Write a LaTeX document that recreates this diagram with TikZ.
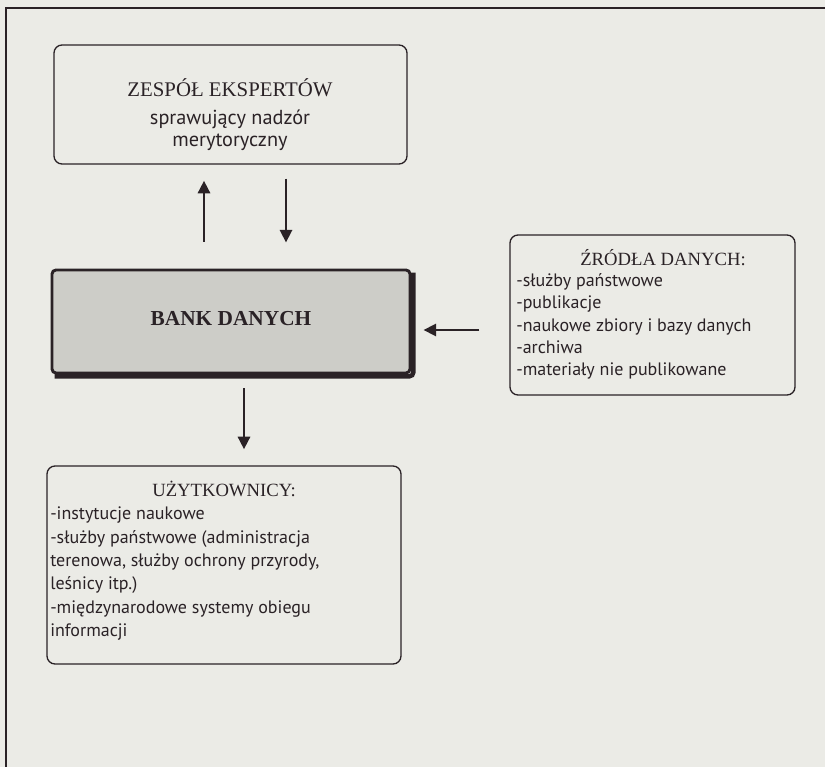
\documentclass[tikz,border=0pt]{standalone}
\usepackage{fontspec}
\setmainfont{Liberation Serif}
\newfontfamily\listfont{PT Sans}
\usetikzlibrary{arrows.meta}
\definecolor{bg}{HTML}{EBEBE6}
\definecolor{ink}{HTML}{2A2226}
\definecolor{bankfill}{HTML}{CDCDC8}
\begin{document}
\begin{tikzpicture}[x=0.75pt,y=-0.75pt,
  box/.style={draw=ink, line width=1pt, rounded corners=6pt, inner sep=0pt},
  bankbox/.style={draw=ink, fill=bankfill, line width=2.2pt, rounded corners=3pt, inner sep=0pt},
  arr/.style={draw=ink, line width=2.2pt, -{Triangle[length=9.5pt,width=9pt]}},
  head/.style={font=\fontsize{14}{16}\selectfont, text=ink, inner sep=0pt, anchor=mid},
  item/.style={font=\listfont\fontsize{13.5}{15}\selectfont, text=ink, inner sep=0pt, anchor=mid west},
  citem/.style={font=\listfont\fontsize{15.2}{17}\selectfont, text=ink, inner sep=0pt, anchor=mid}]
\fill[bg] (0,0) rectangle (825,767);
\useasboundingbox (0,0) rectangle (825,767);
% frame
\draw[ink, line width=1pt] (6,767) -- (6,8) -- (825,8);

% boxes
\node[box, minimum width=264.75pt, minimum height=89.25pt] (exp) at (230.5,104.5) {};
\node[bankbox, minimum width=268.5pt, minimum height=77.25pt] (bank) at (231,321.5) {};
\draw[ink, line width=3.4pt, rounded corners=3pt]
  ([shift={(1.4pt,-3pt)}]bank.north east) -- ([shift={(1.4pt,-1.4pt)}]bank.south east)
  -- ([shift={(3pt,-1.4pt)}]bank.south west);
\node[box, minimum width=213.75pt, minimum height=120pt] (src) at (652.5,315) {};
\node[box, minimum width=265.5pt, minimum height=148.5pt] (usr) at (224,565) {};

% texts
\node[head, font=\fontsize{15.6}{18}\selectfont] (expt) at (230,93) {ZESPÓŁ EKSPERTÓW};
\node[citem] (exps1) at (230,121) {sprawujący nadzór};
\node[citem] (exps2) at (230,143) {merytoryczny};

\node[font=\bfseries\fontsize{16}{18}\selectfont, text=ink, inner sep=0pt, anchor=mid] (bankt) at (231,322) {BANK DANYCH};

\node[head] (srct) at (663,262) {ŹRÓDŁA DANYCH:};
\node[item] (src1) at (516,283) {-służby państwowe};
\node[item] (src2) at (516,305) {-publikacje};
\node[item] (src3) at (516,328) {-naukowe zbiory i bazy danych};
\node[item] (src4) at (516,350) {-archiwa};
\node[item] (src5) at (516,372) {-materiały nie publikowane};

\node[head] (usrt) at (224,493) {UŻYTKOWNICY:};
\node[item] (usr1) at (50,516) {-instytucje naukowe};
\node[item] (usr2) at (50,540) {-służby państwowe (administracja};
\node[item] (usr3) at (50,563) {terenowa, służby ochrony przyrody,};
\node[item] (usr4) at (50,586) {leśnicy itp.)};
\node[item] (usr5) at (50,610) {-międzynarodowe systemy obiegu};
\node[item] (usr6) at (50,633) {informacji};

% arrows
\coordinate (upx) at (204,0);
\coordinate (dnx) at (286,0);
\coordinate (d2x) at (244,0);
\coordinate (ly) at (0,330);
\draw[arr, shorten <=20.25pt, shorten >=12pt] (bank.north -| upx) -- (exp.south -| upx);
\draw[arr, shorten <=10.5pt, shorten >=19.5pt] (exp.south -| dnx) -- (bank.north -| dnx);
\draw[arr, shorten <=22.5pt, shorten >=9pt] (src.west |- ly) -- (bank.east |- ly);
\draw[arr, shorten <=10.5pt, shorten >=12pt] (bank.south -| d2x) -- (usr.north -| d2x);
\end{tikzpicture}
\end{document}
